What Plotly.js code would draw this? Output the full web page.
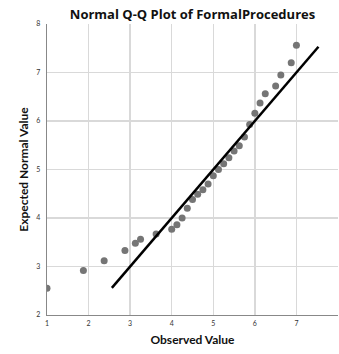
<!DOCTYPE html>
<html>
<head>
<meta charset="utf-8">
<script src="https://cdn.plot.ly/plotly-3.0.1.min.js"></script>
<style>html,body{margin:0;padding:0;background:#fff;}#chart{width:339px;height:354px;}</style>
</head>
<body>
<div id="chart"></div>
<script>
const observed = [1, 1.875, 2.375, 2.875, 3.125, 3.25, 3.625, 4, 4.125, 4.25, 4.375, 4.5, 4.625, 4.75, 4.875,
  5, 5.125, 5.25, 5.375, 5.5, 5.625, 5.75, 5.875, 6, 6.125, 6.25, 6.5, 6.625, 6.875, 7];
const expected = [2.55, 2.92, 3.12, 3.33, 3.48, 3.56, 3.67, 3.77, 3.86, 4.0, 4.2, 4.38, 4.49, 4.58, 4.7,
  4.87, 5.0, 5.12, 5.24, 5.38, 5.49, 5.67, 5.93, 6.16, 6.37, 6.56, 6.72, 6.95, 7.2, 7.56];
const lineX = [2.56, 7.53];
const lineY = [2.56, 7.53];
const tickVals = [1, 2, 3, 4, 5, 6, 7, 8];

const traces = [
  {x: observed, y: expected, type: 'scatter', mode: 'markers',
   marker: {color: '#757575', size: 7}, hoverinfo: 'skip'},
  {x: lineX, y: lineY, type: 'scatter', mode: 'lines',
   line: {color: '#000000', width: 2.5}, hoverinfo: 'skip'}
];
const fam = 'Lato, "Open Sans", Arial, sans-serif';
const layout = {
  width: 339, height: 354,
  margin: {l: 47, r: 1, t: 24, b: 39},
  paper_bgcolor: '#ffffff', plot_bgcolor: '#ffffff',
  showlegend: false,
  title: {text: 'Normal Q-Q Plot of FormalProcedures', font: {family: '"Open Sans", Lato, sans-serif', size: 13, color: '#111', weight: 'bold'},
          x: 0.5, xanchor: 'center', y: 1 - 14/354, yanchor: 'middle', xref: 'paper'},
  xaxis: {range: [1, 8], tickvals: tickVals, ticktext: tickVals.map(String),
          showgrid: true, gridcolor: '#d9d9d9', gridwidth: 1.3, zeroline: false,
          showline: true, linecolor: '#888', linewidth: 1.2, ticks: '',
          tickfont: {family: fam, size: 7, color: '#333'}, ticklabelstandoff: 1,
          title: {text: 'Observed Value', font: {family: fam, size: 12, color: '#111', weight: 'bold'}, standoff: 10}},
  yaxis: {range: [2, 8], tickvals: [2, 3, 4, 5, 6, 7, 8], ticktext: ['2','3','4','5','6','7','8'],
          showgrid: true, gridcolor: '#d9d9d9', gridwidth: 1.3, zeroline: false,
          showline: true, linecolor: '#888', linewidth: 1.2, ticks: '',
          tickfont: {family: fam, size: 7, color: '#333'}, ticklabelstandoff: 4,
          title: {text: 'Expected Normal Value', font: {family: fam, size: 12, color: '#111', weight: 'bold'}, standoff: 5}}
};
Plotly.newPlot('chart', traces, layout, {staticPlot: true, displayModeBar: false});
</script>
</body>
</html>
